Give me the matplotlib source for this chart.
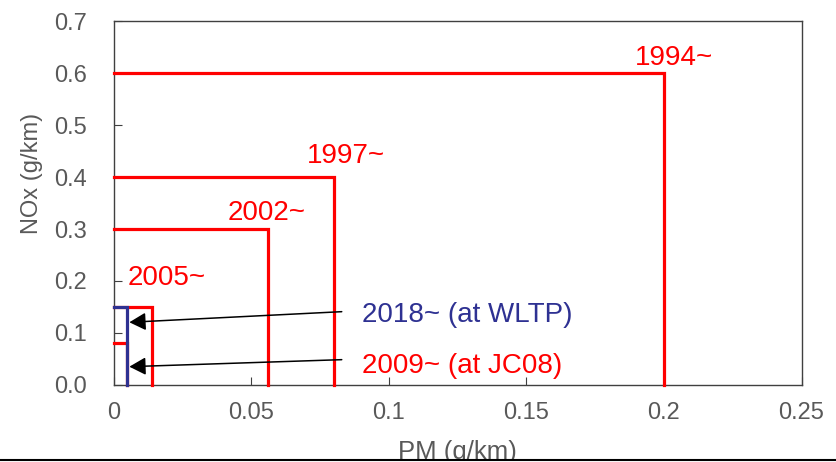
import matplotlib
matplotlib.use("Agg")
import matplotlib.pyplot as plt
from matplotlib.patches import Rectangle
from matplotlib.lines import Line2D

plt.rcParams['font.family'] = ['Liberation Sans', 'DejaVu Sans']

# Data: emission standards (PM limit, NOx limit)
labels = ["1994~", "1997~", "2002~", "2005~", "2009~ (at JC08)"]
pm_limits = [0.2, 0.08, 0.056, 0.014, 0.005]
nox_limits = [0.6, 0.4, 0.3, 0.15, 0.08]
wltp_label = "2018~ (at WLTP)"
wltp_pm = 0.005
wltp_nox = 0.15

x_ticks = [0, 0.05, 0.1, 0.15, 0.2, 0.25]
x_tick_labels = ["0", "0.05", "0.1", "0.15", "0.2", "0.25"]
y_ticks = [0.0, 0.1, 0.2, 0.3, 0.4, 0.5, 0.6, 0.7]
y_tick_labels = ["0.0", "0.1", "0.2", "0.3", "0.4", "0.5", "0.6", "0.7"]

RED = "#ff0000"
NAVY = "#2e3192"
GRAY = "#595959"

fig = plt.figure(figsize=(8.37, 4.62), dpi=100)
ax = fig.add_axes([0.1358, 0.1667, 0.8218, 0.7878])

for pm, nox in zip(pm_limits, nox_limits):
    ax.plot([0, pm, pm], [nox, nox, 0], color=RED, lw=2.3, solid_joinstyle='miter', zorder=3, clip_on=False)
ax.plot([0, wltp_pm, wltp_pm], [wltp_nox, wltp_nox, 0], color=NAVY, lw=2.3, solid_joinstyle='miter', zorder=4, clip_on=False)

# Labels for the big steps
ax.text(0.1895, 0.615, labels[0], color=RED, fontsize=20, ha='left', va='baseline')
ax.text(0.0703, 0.427, labels[1], color=RED, fontsize=20, ha='left', va='baseline')
ax.text(0.0415, 0.317, labels[2], color=RED, fontsize=20, ha='left', va='baseline')
ax.text(0.0052, 0.192, labels[3], color=RED, fontsize=20, ha='left', va='baseline')

# Annotated small ones
ax.text(0.0903, 0.1215, wltp_label, color=NAVY, fontsize=20, ha='left', va='baseline')
ax.text(0.0903, 0.0237, labels[4], color=RED, fontsize=20, ha='left', va='baseline')

arrow_kw = dict(arrowstyle='-|>,head_length=0.5,head_width=0.27', color='black', lw=1.1,
                mutation_scale=20, shrinkA=0, shrinkB=0)
ax.annotate('', xy=(0.0057, 0.1206), xytext=(0.0829, 0.141), arrowprops=arrow_kw, zorder=5)
ax.annotate('', xy=(0.0057, 0.0352), xytext=(0.0829, 0.0487), arrowprops=arrow_kw, zorder=5)

ax.set_xlim(0, 0.25)
ax.set_ylim(0, 0.7)
ax.set_xticks(x_ticks)
ax.set_xticklabels(x_tick_labels)
ax.set_yticks(y_ticks)
ax.set_yticklabels(y_tick_labels)
ax.tick_params(axis='x', direction='in', length=6, width=0.8, color='#404040',
               labelsize=17, labelcolor=GRAY, pad=12)
ax.tick_params(axis='y', direction='in', length=6, width=0.8, color='#404040',
               labelsize=17, labelcolor=GRAY, pad=19)
for s in ax.spines.values():
    s.set_color('#404040')
    s.set_linewidth(1.0)

ax.set_xlabel("PM (g/km)", fontsize=18.5, color=GRAY)
ax.xaxis.set_label_coords(0.5, -0.152)
ax.set_ylabel("NOx (g/km)", fontsize=17, color=GRAY, va='center', ha='center')
ax.yaxis.set_label_coords(-0.119, 0.582)

# bottom border line cutting the x label
fig.patches.append(Rectangle((0, 0), 1, 2.0/462, transform=fig.transFigure, facecolor='white',
                             edgecolor='none', zorder=10))
fig.lines.append(Line2D([0, 1], [2.5/462, 2.5/462], transform=fig.transFigure, color='black',
                        lw=1.5, zorder=11))

fig.savefig("out.png", dpi=100)
